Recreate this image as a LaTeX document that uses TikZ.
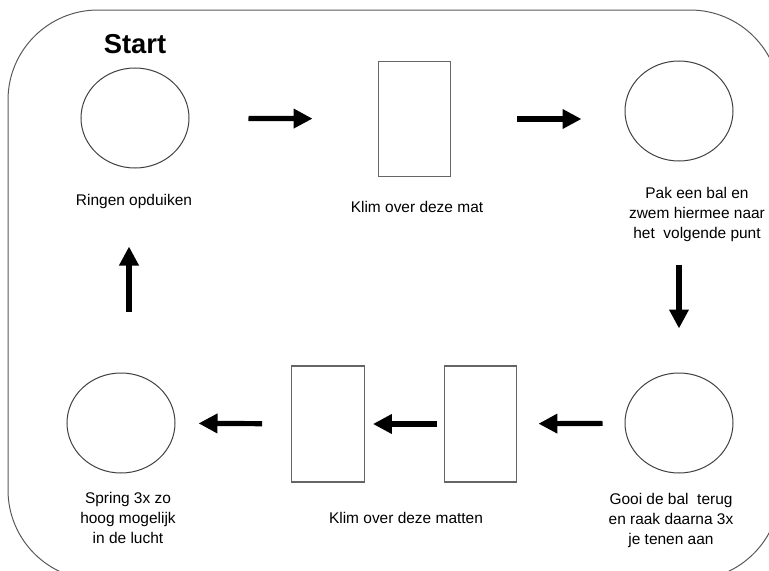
\documentclass[tikz,border=0pt]{standalone}
\usepackage{fontspec}
\setmainfont{Liberation Sans}
\usetikzlibrary{shapes.geometric,arrows.meta}
\begin{document}
\begin{tikzpicture}[x=0.75pt,y=-0.75pt,
  ring/.style={draw=black!75, line width=0.75pt, ellipse, minimum width=81pt, minimum height=75pt, inner sep=0pt},
  mat/.style={draw=black!60, line width=0.9pt, rectangle, inner sep=0pt, minimum width=54.5pt, minimum height=86pt},
  lbl/.style={font=\fontsize{11.6}{15}\selectfont, inner sep=0pt, align=center},
  arr/.style={line width=3.9pt, -{Triangle[length=14.25pt,width=14pt]}}]
\useasboundingbox (0,0) rectangle (769,571);
\begin{scope}
  \clip (0,0) rectangle (769,571);
  \draw[black!65, line width=0.75pt, rounded corners=67.5pt] (8,10) rectangle (780,580);
\end{scope}
% stations
\node[ring] (c1) at (135,118) {};
\node[mat] (r1) at (414.5,119) {};
\node[ring] (c2) at (679,111) {};
\node[ring] (c3) at (679,423) {};
\node[mat, minimum height=87pt] (r3) at (480.5,424) {};
\node[mat, minimum height=87pt] (r2) at (328,424) {};
\node[ring] (c4) at (121,423) {};
% arrows
\draw[arr, shorten <=44.25pt, shorten >=48.75pt] (c1) -- (r1);
\draw[arr, shorten <=49.5pt, shorten >=32.25pt] (r1.east) -- (r1.east -| c2.west);
\draw[arr, shorten <=77.25pt, shorten >=33pt] (c2) -- (c3);
\draw[arr, shorten <=16.5pt, shorten >=15.75pt] (c3) -- (r3);
\draw[arr, shorten <=5.25pt, shorten >=6pt] (r3) -- (r2);
\draw[arr, shorten <=21.75pt, shorten >=17.25pt] (r2) -- (c4);
\draw[arr, shorten <=45.75pt, shorten >=58.5pt] ([xshift=6pt]c4.north) -- ([xshift=-4.5pt]c1.south);
% labels
\node[lbl, font=\bfseries\fontsize{20.5}{24}\selectfont, anchor=base] (start) at (135,53) {Start};
\node[lbl, anchor=base] (t1) at (134,205) {Ringen opduiken};
\node[lbl, anchor=base] (t2) at (417,212) {Klim over deze mat};
\node[lbl, anchor=north] (t3) at (697,187) {Pak een bal en\\zwem hiermee naar\\het\ \ volgende punt};
\node[lbl, anchor=north] (t4) at (671,493) {Gooi de bal\ \ terug\\en raak daarna 3x\\je tenen aan};
\node[lbl, anchor=base] (t5) at (406,523) {Klim over deze matten};
\node[lbl, anchor=north] (t6) at (128,492) {Spring 3x zo\\hoog mogelijk\\in de lucht};
\end{tikzpicture}
\end{document}
